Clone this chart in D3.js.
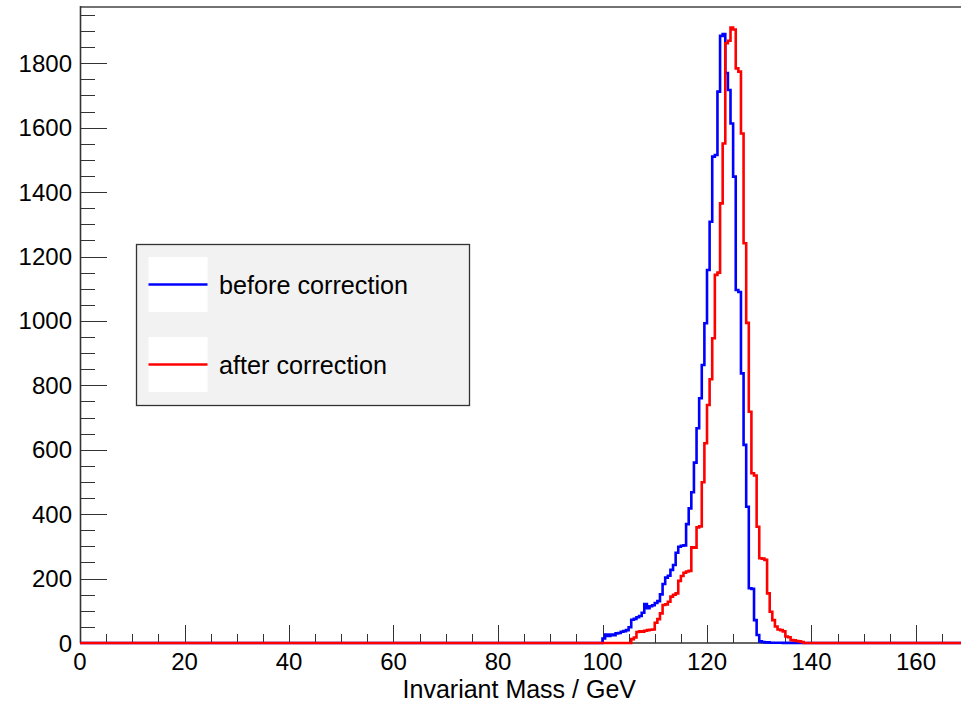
<!DOCTYPE html>
<html><head><meta charset="utf-8">
<script src="https://cdn.jsdelivr.net/npm/d3@7/dist/d3.min.js"></script>
<style>body{margin:0;background:#fff}svg{display:block}text{font-family:"Liberation Sans",Arial,Helvetica,sans-serif;fill:#000}</style>
</head><body>
<svg id="c" width="961" height="705"></svg>
<script>
// ---- data ----
const binWidth = 0.5;                 // GeV
const xDomain = [0, 170];
const yDomain = [0, 1975];
const xTicks = [0, 20, 40, 60, 80, 100, 120, 140, 160];
const yTicks = [0, 200, 400, 600, 800, 1000, 1200, 1400, 1600, 1800];
const xLabel = "Invariant Mass / GeV";
const seriesNames = ["before correction", "after correction"];

// before correction: bins of 0.5 GeV starting at 100.0
const beforeStart = 100.0;
const beforeValues = [
  14, 26, 22, 26, 24, 30, 31, 35, 37, 40,
  49, 72, 75, 80, 84, 94, 121, 108, 114, 117,
  124, 130, 151, 183, 203, 209, 227, 242, 280, 299,
  302, 303, 369, 418, 468, 560, 667, 760, 863, 993,
  1158, 1308, 1510, 1515, 1712, 1885, 1891, 1770, 1717, 1613,
  1448, 1096, 1090, 837, 615, 423, 170, 168, 71, 25,
  5, 3, 2, 2, 1, 1, 1, 1, 1, 0, 1, 0, 1
];
// after correction: bins of 0.5 GeV starting at 105.5
const afterStart = 105.5;
const afterValues = [
  12, 17, 34, 36, 35, 38, 40, 41, 42, 63,
  74, 92, 118, 120, 128, 144, 150, 154, 193, 208,
  218, 222, 224, 297, 296, 359, 362, 499, 620, 739,
  819, 946, 1143, 1150, 1365, 1551, 1862, 1870, 1911, 1905,
  1784, 1774, 1582, 1241, 994, 718, 527, 520, 361, 263,
  262, 258, 154, 97, 71, 51, 42, 40, 36, 20,
  18, 9, 8, 6, 5, 3
];

// ---- drawing ----
const svg = d3.select("#c");
const x = d3.scaleLinear().domain(xDomain).range([80, 80 + 170 * 5.225]);
const y = d3.scaleLinear().domain(yDomain).range([643, 6.9]);

// frame top border
svg.append("line").attr("x1", 80).attr("x2", 961).attr("y1", 7).attr("y2", 7)
  .attr("stroke", "#444").attr("stroke-width", 1.6);

// y axis
const yMinor = d3.range(0, 1951, 50);
svg.append("g").selectAll("line").data(yMinor).join("line")
  .attr("x1", 80).attr("x2", d => d % 200 === 0 ? 107 : 95)
  .attr("y1", d => Math.round(y(d)) + 0.5).attr("y2", d => Math.round(y(d)) + 0.5)
  .attr("stroke", "#333").attr("stroke-width", 1);
svg.append("line").attr("x1", 80.5).attr("x2", 80.5).attr("y1", 6).attr("y2", 643)
  .attr("stroke", "#333").attr("stroke-width", 1.6);
svg.append("g").selectAll("text").data(yTicks).join("text")
  .attr("x", 72).attr("y", d => y(d) + 8.5).attr("text-anchor", "end")
  .attr("font-size", 24).text(d => d);

// x axis
const xMinor = d3.range(0, 171, 5);
svg.append("g").selectAll("line").data(xMinor).join("line")
  .attr("x1", d => Math.round(x(d)) + 0.5).attr("x2", d => Math.round(x(d)) + 0.5)
  .attr("y1", 643).attr("y2", d => d % 20 === 0 ? 625 : 634)
  .attr("stroke", "#333").attr("stroke-width", 1);
svg.append("line").attr("x1", 80).attr("x2", 961).attr("y1", 643).attr("y2", 643)
  .attr("stroke", "#333").attr("stroke-width", 1.6);
svg.append("g").selectAll("text").data(xTicks).join("text")
  .attr("x", d => x(d)).attr("y", 670).attr("text-anchor", "middle")
  .attr("font-size", 24).text(d => d);
svg.append("text").attr("x", 636).attr("y", 698).attr("text-anchor", "end")
  .attr("font-size", 25).text(xLabel);

// histograms
function histPoints(start, values) {
  const pts = [[xDomain[0], 0]];
  values.forEach((v, i) => pts.push([start + i * binWidth, v]));
  pts.push([start + values.length * binWidth, 0]);
  pts.push([xDomain[1], 0]);
  return pts;
}
const line = d3.line().x(d => x(d[0])).y(d => y(d[1])).curve(d3.curveStepAfter);
svg.append("path").attr("d", line(histPoints(beforeStart, beforeValues)))
  .attr("fill", "none").attr("stroke", "#0000ff").attr("stroke-width", 2.6);
svg.append("path").attr("d", line(histPoints(afterStart, afterValues)))
  .attr("fill", "none").attr("stroke", "#ff0000").attr("stroke-width", 2.6);

// legend
const lg = svg.append("g");
lg.append("rect").attr("x", 136.5).attr("y", 244.5).attr("width", 333).attr("height", 161)
  .attr("fill", "#f2f2f2").attr("stroke", "#333").attr("stroke-width", 1.3);
const colors = ["#0000ff", "#ff0000"];
const rowY = [284.5, 364.5];
seriesNames.forEach((name, i) => {
  lg.append("rect").attr("x", 148.5).attr("y", rowY[i] - 27.5).attr("width", 59).attr("height", 55)
    .attr("fill", "#fff");
  lg.append("line").attr("x1", 148.5).attr("x2", 207.5).attr("y1", rowY[i]).attr("y2", rowY[i])
    .attr("stroke", colors[i]).attr("stroke-width", 2.6);
  lg.append("text").attr("x", 219).attr("y", rowY[i] + 9.5).attr("font-size", 25.2).text(name);
});
</script>
</body></html>
